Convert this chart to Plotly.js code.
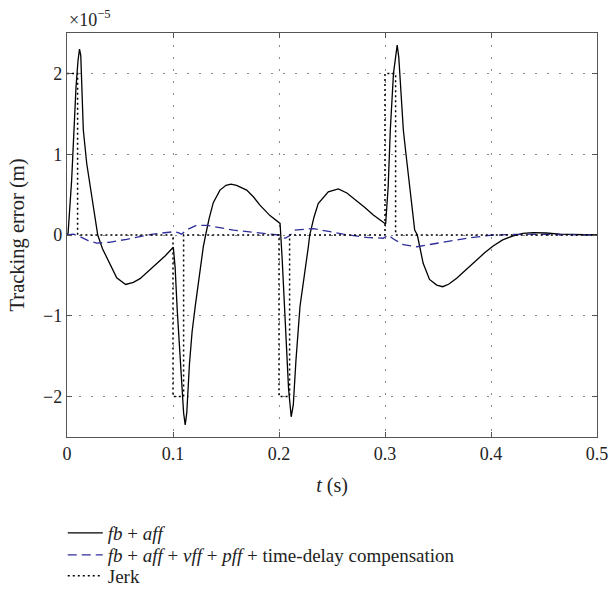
<!DOCTYPE html>
<html>
<head>
<meta charset="utf-8">
<script src="https://cdn.plot.ly/plotly-3.0.1.min.js"></script>
<style>html,body{margin:0;padding:0;background:#fff;}#chart{width:609px;height:597px;}</style>
</head>
<body>
<div id="chart"></div>
<script>
// values in units of 1e-5 m
const tSolid = [0, 0.001, 0.0044, 0.0066, 0.0085, 0.0104, 0.0118, 0.013, 0.0154, 0.0186, 0.0248, 0.029, 0.0335, 0.0374, 0.0406, 0.0469, 0.0553, 0.0626, 0.0689, 0.0752, 0.0846, 0.0925, 0.1003,
  0.102, 0.104, 0.106, 0.108, 0.110, 0.1115, 0.113, 0.1155, 0.118, 0.121, 0.1255, 0.1286, 0.1308, 0.134, 0.138, 0.1443, 0.15, 0.1547, 0.16, 0.1695, 0.176, 0.182, 0.1915, 0.201,
  0.203, 0.205, 0.207, 0.209, 0.2115, 0.2135, 0.216, 0.2198, 0.2277, 0.229, 0.233, 0.237, 0.2465, 0.256, 0.264, 0.273, 0.281, 0.289, 0.3006,
  0.303, 0.305, 0.308, 0.3105, 0.3115, 0.313, 0.3173, 0.3198, 0.328, 0.3305, 0.336, 0.342, 0.3488, 0.3544, 0.36, 0.3676, 0.377, 0.3865, 0.394, 0.402, 0.411, 0.421, 0.43, 0.44, 0.452, 0.465, 0.48, 0.5];
const vSolid = [0, 0.02, 0.68, 1.3, 1.83, 2.16, 2.3, 2.22, 1.3, 0.885, 0.35, 0, -0.17, -0.27, -0.37, -0.53, -0.612, -0.585, -0.54, -0.465, -0.36, -0.26, -0.152,
  -0.4, -0.93, -1.4, -1.85, -2.2, -2.35, -2.2, -1.6, -1.2, -0.88, -0.43, -0.144, 0, 0.2, 0.4, 0.556, 0.615, 0.63, 0.615, 0.556, 0.47, 0.37, 0.24, 0.144,
  -0.3, -0.9, -1.45, -1.9, -2.25, -2.1, -1.55, -0.885, -0.144, 0, 0.22, 0.39, 0.535, 0.57, 0.52, 0.43, 0.34, 0.247, 0.136,
  0.6, 1.3, 2.0, 2.3, 2.35, 2.2, 1.3, 1.0, 0.06, 0, -0.35, -0.55, -0.62, -0.64, -0.61, -0.535, -0.42, -0.31, -0.22, -0.136, -0.06, -0.01, 0.02, 0.03, 0.025, 0.01, 0.003, 0];

const tDash = [0, 0.006, 0.0123, 0.02, 0.028, 0.04, 0.0563, 0.0814, 0.1003, 0.105, 0.108, 0.114, 0.1223, 0.132, 0.157, 0.182, 0.1994, 0.2057, 0.21, 0.215, 0.2324, 0.2607, 0.2827, 0.2984, 0.3031, 0.308, 0.3173, 0.33, 0.352, 0.377, 0.402, 0.434, 0.5];
const vDash = [0, 0.01, -0.02, -0.07, -0.10, -0.09, -0.053, 0.012, 0.04, 0.03, 0.01, 0.07, 0.12, 0.12, 0.06, 0.02, 0, -0.04, -0.01, 0.06, 0.08, 0.01, -0.03, -0.04, 0, -0.05, -0.12, -0.145, -0.1, -0.04, 0, 0.01, 0];

const tJerk = [0, 0.01, 0.1, 0.11, 0.2, 0.21, 0.3, 0.31, 0.5];
const vJerk = [2, 0, -2, 0, -2, 0, 2, 0, 0];

const xTicks = [0, 0.1, 0.2, 0.3, 0.4, 0.5];
const xTickText = ['0', '0.1', '0.2', '0.3', '0.4', '0.5'];
const yTicks = [-2, -1, 0, 1, 2];
const yTickText = ['\u22122', '\u22121', '0', '1', '2'];

const names = ['<i>fb</i> + <i>aff</i>', '<i>fb</i> + <i>aff</i> + <i>vff</i> + <i>pff</i> + time-delay compensation', 'Jerk'];

const FONT = '"Liberation Serif", "DejaVu Serif", serif';
const TXT = '#222';

const traces = [
  {x: tSolid, y: vSolid, mode: 'lines', name: names[0], legend: 'legend', line: {color: '#000', width: 1.3}},
  {x: tDash, y: vDash, mode: 'lines', name: names[1], legend: 'legend2', line: {color: '#2e2e9a', width: 1.3, dash: '9px,5px'}},
  {x: tJerk, y: vJerk, mode: 'lines', name: names[2], legend: 'legend3', line: {color: '#000', width: 1.5, dash: '2px,3px', shape: 'hv'}}
];

const axisCommon = {
  showgrid: true, gridcolor: '#888', griddash: '2px,10px', gridwidth: 1,
  zeroline: false, showline: true, linecolor: '#555', linewidth: 1.2, mirror: 'ticks',
  ticks: 'inside', ticklen: 5, tickcolor: '#555',
  tickfont: {family: FONT, size: 18, color: TXT}
};

function leg(yc) {
  return {x: -0.008, y: yc, xref: 'paper', yref: 'container', xanchor: 'left', yanchor: 'middle',
          orientation: 'v', itemwidth: 35, font: {family: FONT, size: 19, color: TXT},
          bgcolor: 'rgba(0,0,0,0)', borderwidth: 0};
}

const layout = {
  width: 609, height: 597,
  margin: {l: 67, r: 12, t: 33, b: 160},
  paper_bgcolor: '#fff', plot_bgcolor: '#fff',
  font: {family: FONT, size: 18, color: TXT},
  showlegend: true,
  legend: leg(0.1072),
  legend2: leg(0.0704),
  legend3: leg(0.0352),
  xaxis: Object.assign({}, axisCommon, {range: [0, 0.5], tickvals: xTicks, ticktext: xTickText,
          title: {text: '<i>t</i> (s)', font: {family: FONT, size: 20, color: TXT}, standoff: 15}}),
  yaxis: Object.assign({}, axisCommon, {range: [-2.5, 2.5], tickvals: yTicks, ticktext: yTickText,
          title: {text: 'Tracking error (m)', font: {family: FONT, size: 20.5, color: TXT}, standoff: 12}}),
  annotations: [{xref: 'paper', yref: 'paper', x: 0, y: 1, xanchor: 'left', yanchor: 'bottom', yshift: 1,
                 text: '\u00d710<sup>\u22125</sup>', showarrow: false, font: {family: FONT, size: 18, color: TXT}}]
};

Plotly.newPlot('chart', traces, layout, {displayModeBar: false, staticPlot: true});
</script>
</body>
</html>
